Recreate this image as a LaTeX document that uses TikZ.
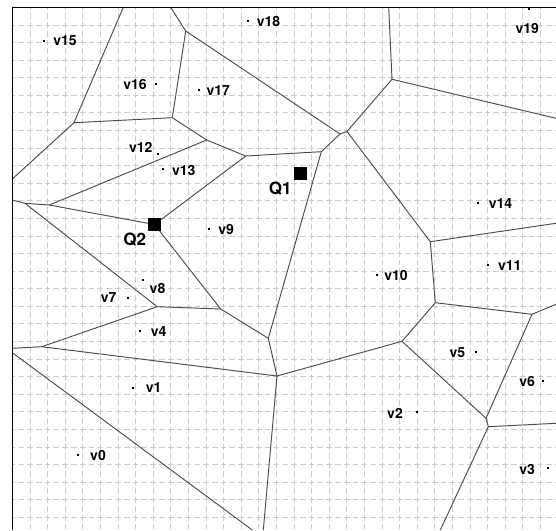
\documentclass[tikz,border=0pt]{standalone}
\usepackage{fontspec}
\setmainfont{TeX Gyre Heros}
\usetikzlibrary{calc}

\begin{document}
\begin{tikzpicture}[x=1pt, y=-1pt,
    cell/.style={draw=black!70, line width=0.95pt},
    gridline/.style={draw=black!20, line width=0.6pt, dash pattern=on 5.8pt off 3pt, dash phase=2.9pt},
    site/.style={rectangle, fill=black, inner sep=0pt, minimum size=2.3pt},
    lbl/.style={font=\bfseries\fontsize{14}{16}\selectfont, inner sep=0pt},
    query/.style={rectangle, fill=black, inner sep=0pt, minimum size=12.5pt},
    qlbl/.style={font=\bfseries\fontsize{17}{19}\selectfont, inner sep=0pt}]

    \useasboundingbox (0,0) rectangle (556,530);

    % --- BACKGROUND GRID ---
    \foreach \i in {0,...,31} {
        \draw[gridline] (12.3+17.6*\i, 7.3) -- (12.3+17.6*\i, 530);
    }
    \foreach \j in {0,...,30} {
        \draw[gridline] (12.3, 7.3+17.58*\j) -- (556, 7.3+17.58*\j);
    }

    % --- VORONOI VERTICES ---
    \coordinate (tA) at (123.3,7.3);
    \coordinate (B)  at (74,122.7);
    \coordinate (lC) at (12.3,179);
    \coordinate (D)  at (172.3,117.7);
    \coordinate (E)  at (185.7,31);
    \coordinate (tE) at (170.7,7.3);
    \coordinate (V1) at (340,134);
    \coordinate (V2) at (347,131.5);
    \coordinate (H)  at (392,79.3);
    \coordinate (tH) at (388.7,7.3);
    \coordinate (rH) at (556,118.3);
    \coordinate (I)  at (430.3,241.7);
    \coordinate (rI) at (556,223.3);
    \coordinate (J)  at (435.3,302.7);
    \coordinate (K)  at (532,314.3);
    \coordinate (rK) at (556,304.3);
    \coordinate (L)  at (402,341.3);
    \coordinate (M)  at (277,376);
    \coordinate (N1) at (486,418.3);
    \coordinate (N2) at (488.3,426.7);
    \coordinate (rN) at (556,423.3);
    \coordinate (bN) at (440.3,530);
    \coordinate (bM) at (263.3,530);
    \coordinate (O)  at (268.3,338.3);
    \coordinate (G)  at (321.3,151.7);
    \coordinate (P)  at (220.7,309);
    \coordinate (Q)  at (157.3,306.7);
    \coordinate (R)  at (41.7,346.7);
    \coordinate (lR) at (12.3,348.3);
    \coordinate (l0) at (12.3,352.7);
    \coordinate (b0) at (252.3,530);
    \coordinate (lS) at (12.3,200);
    \coordinate (S)  at (25,203.3);
    \coordinate (T)  at (49.3,205);
    \coordinate (U)  at (206.7,140);
    \coordinate (W)  at (245.7,156);
    \coordinate (Z)  at (154.5,224.5);

    % --- CELL EDGES ---
    \draw[cell] (tA) -- (B) -- (lC);
    \draw[cell] (B) -- (D) -- (E) -- (tE);
    \draw[cell] (E) -- (V1) -- (V2) -- (H) -- (tH);
    \draw[cell] (H) -- (rH);
    \draw[cell] (V2) -- (I) -- (rI);
    \draw[cell] (I) -- (J) -- (K) -- (rK);
    \draw[cell] (J) -- (L) -- (M) -- (bM);
    \draw[cell] (L) -- (N1) -- (N2) -- (rN);
    \draw[cell] (K) -- (N1);
    \draw[cell] (N2) -- (bN);
    \draw[cell] (M) -- (O) -- (G) -- (V1);
    \draw[cell] (G) -- (W) -- (U) -- (D);
    \draw[cell] (U) -- (T);
    \draw[cell] (W) -- (Z) -- (P) -- (O);
    \draw[cell] (T) -- (Z);
    \draw[cell] (P) -- (Q) -- (S);
    \draw[cell] (Q) -- (R) -- (lR);
    \draw[cell] (R) -- (M);
    \draw[cell] (l0) -- (b0);
    \draw[cell] (lS) -- (S) -- (T);

    % --- FRAME (top and left) ---
    \draw[black, line width=1.3pt] (12.3,530) -- (12.3,7.3) -- (556,7.3);

    % --- SITES ---
    \node[site] (v0)  at (78.3,455) {};
    \node[site] (v1)  at (132.7,387.7) {};
    \node[site] (v2)  at (416.7,412.3) {};
    \node[site] (v3)  at (548.3,468.3) {};
    \node[site] (v4)  at (140.3,331) {};
    \node[site] (v5)  at (475.7,351.7) {};
    \node[site] (v6)  at (542.7,380.7) {};
    \node[site] (v7)  at (128.3,297.7) {};
    \node[site] (v8)  at (142.7,280) {};
    \node[site] (v9)  at (209,228.7) {};
    \node[site] (v10) at (376.7,274.7) {};
    \node[site] (v11) at (488,265) {};
    \node[site] (v12) at (158.3,154.3) {};
    \node[site] (v13) at (163,169) {};
    \node[site] (v14) at (478.3,203.3) {};
    \node[site] (v15) at (44.3,40.7) {};
    \node[site] (v16) at (155.7,84.3) {};
    \node[site] (v17) at (199,90) {};
    \node[site] (v18) at (248.3,21) {};
    \node[site] (v19) at (528.7,9) {};

    \node[lbl] at (98,455)     {v0};
    \node[lbl] at (153.7,388)  {v1};
    \node[lbl] at (395,413)    {v2};
    \node[lbl] at (527.2,469)  {v3};
    \node[lbl] at (158.7,331.5){v4};
    \node[lbl] at (457.3,352.5){v5};
    \node[lbl] at (527.2,381)  {v6};
    \node[lbl] at (108.7,298)  {v7};
    \node[lbl] at (157.5,288)  {v8};
    \node[lbl] at (226.2,229)  {v9};
    \node[lbl] at (396,275)    {v10};
    \node[lbl] at (509.8,265.5){v11};
    \node[lbl] at (140.7,147.3){v12};
    \node[lbl] at (183.8,170)  {v13};
    \node[lbl] at (500.5,204)  {v14};
    \node[lbl] at (65,41)      {v15};
    \node[lbl] at (135,84)     {v16};
    \node[lbl] at (218.3,90.5) {v17};
    \node[lbl] at (268.5,21)   {v18};
    \node[lbl] at (527.3,28.3) {v19};

    % --- QUERY POINTS ---
    \node[query] (q1) at (300.5,173.5) {};
    \node[query] (q2) at (Z) {};
    \node[qlbl] at (280.3,188.5) {Q1};
    \node[qlbl] at (134.7,240)   {Q2};

\end{tikzpicture}
\end{document}
